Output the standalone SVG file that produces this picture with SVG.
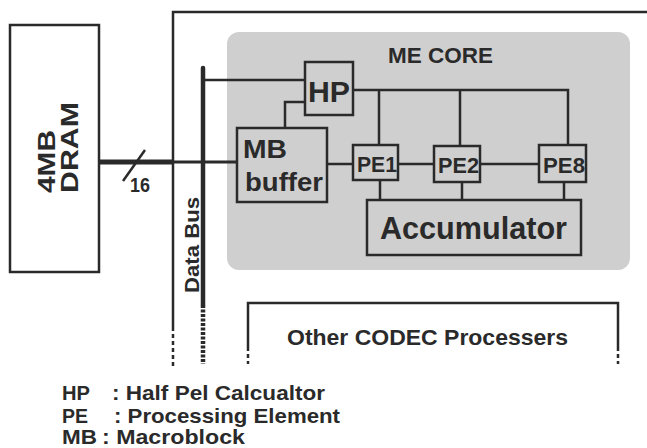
<svg xmlns="http://www.w3.org/2000/svg" width="647" height="448" viewBox="0 0 647 448">
<style>
.box{fill:none;stroke:#2a2a2a;stroke-width:2.5}
.ln{fill:none;stroke:#2a2a2a;stroke-width:2.5}
.t{font-family:"Liberation Sans",Arial,sans-serif;font-weight:bold;fill:#2a2a2a}
</style>
<rect width="647" height="448" fill="#fff"/>
<g id="outer">
<path class="ln" d="M173 327 V12 H647"/>
<path class="ln" d="M173 327 V368" stroke-dasharray="4 3"/>
</g>
<g id="mecore">
<rect x="227" y="32" width="403" height="238" rx="12" fill="#cfcfcf"/>
<text class="t" x="388" y="63" font-size="22" textLength="105" lengthAdjust="spacingAndGlyphs">ME CORE</text>
</g>
<g id="dram">
<rect class="box" x="10" y="25" width="89" height="247"/>
<text class="t" font-size="23" textLength="63" lengthAdjust="spacingAndGlyphs" transform="translate(55,193) rotate(-90)">4MB</text>
<text class="t" font-size="23" textLength="91" lengthAdjust="spacingAndGlyphs" transform="translate(78,193) rotate(-90)">DRAM</text>
</g>
<g id="hp">
<rect class="box" x="305" y="62" width="48" height="53" fill="#cfcfcf"/>
<text class="t" x="308" y="102" font-size="30" textLength="42" lengthAdjust="spacingAndGlyphs">HP</text>
</g>
<g id="mb">
<rect class="box" x="237" y="128" width="90" height="74" fill="#cfcfcf"/>
<text class="t" x="243" y="158" font-size="26" textLength="44" lengthAdjust="spacingAndGlyphs">MB</text>
<text class="t" x="245" y="191" font-size="26" textLength="78" lengthAdjust="spacingAndGlyphs">buffer</text>
</g>
<g id="pe1">
<rect class="box" x="353" y="145" width="45" height="35" fill="#cfcfcf"/>
<text class="t" x="357" y="172" font-size="22" textLength="40" lengthAdjust="spacingAndGlyphs">PE1</text>
</g>
<g id="pe2">
<rect class="box" x="434" y="146" width="46" height="36" fill="#cfcfcf"/>
<text class="t" x="438" y="173" font-size="22" textLength="41" lengthAdjust="spacingAndGlyphs">PE2</text>
</g>
<g id="pe8">
<rect class="box" x="539" y="145" width="47" height="37" fill="#cfcfcf"/>
<text class="t" x="543" y="173" font-size="22" textLength="42" lengthAdjust="spacingAndGlyphs">PE8</text>
</g>
<g id="acc">
<rect class="box" x="367" y="200" width="214" height="55" fill="#cfcfcf"/>
<text class="t" x="380" y="239" font-size="31" textLength="187" lengthAdjust="spacingAndGlyphs">Accumulator</text>
</g>
<g id="other">
<path class="ln" d="M248 347 V303 H618 V347"/>
<path class="ln" d="M248 347 V364 M618 347 V364" stroke-dasharray="4 3"/>
<text class="t" x="287" y="345" font-size="22" textLength="281" lengthAdjust="spacingAndGlyphs">Other CODEC Processers</text>
</g>
<g id="databus">
<path fill="none" stroke="#2a2a2a" stroke-width="4.5" stroke-linecap="round" d="M203 68 V305"/>
<path fill="none" stroke="#2a2a2a" stroke-width="4.5" d="M203 305 V364" stroke-dasharray="3 1.5"/>
<text class="t" font-size="21" textLength="96" lengthAdjust="spacingAndGlyphs" transform="translate(199,293) rotate(-90)">Data Bus</text>
</g>
<g id="connectors">
<path fill="none" stroke="#2a2a2a" stroke-width="5" d="M99 162 H173"/>
<path fill="none" stroke="#2a2a2a" stroke-width="3" d="M173 162 H237"/>
<path class="ln" d="M123 181 L145 150"/>
<text class="t" x="130" y="192" font-size="20" textLength="20" lengthAdjust="spacingAndGlyphs">16</text>
<path class="ln" d="M203 80 H305"/>
<path class="ln" d="M305 102 H285 V128"/>
<path class="ln" d="M353 90 H568 V145 M379 90 V145 M460 90 V146"/>
<path class="ln" d="M327 164 H353 M398 164 H434 M480 164 H539"/>
<path class="ln" d="M380 180 V200 M462 182 V200 M564 182 V200"/>
</g>
<g id="legend">
<text class="t" font-size="21" y="400"><tspan x="62" textLength="28" lengthAdjust="spacingAndGlyphs">HP</tspan><tspan x="112" textLength="213" lengthAdjust="spacingAndGlyphs">: Half Pel Calcualtor</tspan></text>
<text class="t" font-size="21" y="423"><tspan x="62" textLength="26" lengthAdjust="spacingAndGlyphs">PE</tspan><tspan x="114" textLength="226" lengthAdjust="spacingAndGlyphs">: Processing Element</tspan></text>
<text class="t" font-size="21" y="444"><tspan x="62" textLength="35" lengthAdjust="spacingAndGlyphs">MB</tspan><tspan x="102" textLength="143" lengthAdjust="spacingAndGlyphs">: Macroblock</tspan></text>
</g>
</svg>
